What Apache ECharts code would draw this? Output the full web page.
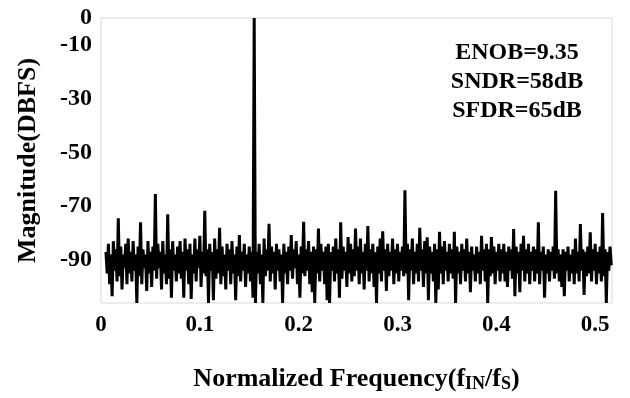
<!DOCTYPE html>
<html>
<head>
<meta charset="utf-8">
<script src="https://cdn.jsdelivr.net/npm/echarts@6/dist/echarts.min.js"></script>
<style>html,body{margin:0;padding:0;background:#fff}#c{width:630px;height:398px}</style>
</head>
<body>
<div id="c"></div>
<script>
// FFT bins (normalized frequency): first bin and bin spacing
const freqStart = 0.005;
const freqStep = 0.00125;
// Magnitude in dBFS per bin
const magnitudes = [
  -87, -95, -84, -99, -88, -103.5, -83, -94, -86, -98, -74.5, -96, -85, -101, -88, -93, -84, -99, -82, -95,
  -87, -98, -83, -94, -88, -106, -85, -96, -76, -99, -86, -93, -88, -101.5, -83, -95, -87, -100, -85, -94,
  -65.5, -97, -84, -93, -87, -101, -83, -95, -88, -99, -73, -97, -86, -104, -83, -94, -88, -98, -85, -95,
  -83, -97, -87, -104, -82, -94, -86, -99, -84, -104.5, -88, -95, -82, -98, -86, -93, -81, -100, -87, -95,
  -71.7, -96, -86, -106, -84, -94, -87, -105, -82, -97, -86, -95, -78, -99, -85, -96, -88, -101, -84, -94,
  -86, -99, -83, -95, -88, -105, -85, -96, -80.7, -98, -87, -94, -84, -100, -88, -95, -85, -98, -87, -104,
  0, -106, -87, -95, -84, -99, -88, -106, -82, -96, -86, -94, -76.5, -98, -85, -95, -87, -101, -84, -94,
  -86, -98, -88, -106, -84, -95, -87, -99, -85, -94, -80.7, -97, -86, -93, -83, -99, -88, -104, -85, -95,
  -75.8, -96, -86, -94, -83, -99, -87, -102, -85, -106, -86, -95, -78.3, -98, -84, -94, -87, -99, -85, -105,
  -84, -106, -87, -94, -85, -98, -82, -95, -86, -104, -76, -97, -85, -94, -87, -100, -81.5, -95, -84, -98,
  -86, -96, -78.3, -94, -85, -99, -82, -95, -87, -101, -84, -94, -77.4, -98, -86, -95, -84, -100, -87, -106,
  -85, -95, -82, -98, -79.3, -94, -86, -101.5, -84, -96, -87, -94, -82, -99, -86, -95, -84, -98, -87, -94,
  -85, -96, -64.1, -95, -84, -105, -86, -94, -82, -99, -87, -95, -84, -98, -78, -94, -86, -100, -83, -95,
  -81.6, -105, -85, -95, -87, -98, -84, -106, -86, -101, -79.5, -95, -85, -99, -83, -94, -87, -98, -84, -95,
  -86, -97, -79.5, -106, -85, -95, -87, -99, -84, -94, -86, -98, -82, -95, -87, -102, -85, -94, -88, -98,
  -85, -95, -87, -99, -81, -94, -86, -98, -84, -106, -86, -96, -81.5, -95, -85, -99, -87, -94, -84, -98,
  -86, -95, -84, -98, -87, -100, -85, -94, -86, -97, -78.5, -103.5, -85, -95, -87, -102, -84, -94, -81, -98,
  -86, -95, -84, -99, -87, -94, -85, -98, -86, -95, -76, -99, -87, -94, -85, -104, -88, -95, -86, -98,
  -87, -94, -85, -97, -64.3, -95, -86, -98, -88, -100, -86, -103.5, -87, -94, -85, -98, -88, -95, -86, -99,
  -82, -95, -87, -98, -76.6, -94, -86, -103, -87, -96, -85, -95, -79.7, -98, -86, -94, -84, -99, -87, -95,
  -85, -98, -72.5, -96, -86, -106, -87, -94, -85, -92
];
// Tick labels
const xTicks = [0, 0.1, 0.2, 0.3, 0.4, 0.5];
const yTicks = [0, -10, -30, -50, -70, -90];
const annotationLines = ['ENOB=9.35', 'SNDR=58dB', 'SFDR=65dB'];

const data = magnitudes.map((m, i) => [freqStart + i * freqStep, m]);
const FONT = '"Liberation Serif", "Times New Roman", serif';

const chart = echarts.init(document.getElementById('c'), null, {renderer: 'canvas'});
chart.setOption({
  animation: false,
  backgroundColor: '#fff',
  grid: {left: 101, right: 18, top: 18, bottom: 92, show: true, borderColor: '#d9d9d9', borderWidth: 1},
  xAxis: {
    type: 'value', min: 0, max: 0.517,
    axisLine: {show: false}, axisTick: {show: false}, splitLine: {show: false},
    axisLabel: {customValues: xTicks, fontFamily: FONT, fontWeight: 'bold', fontSize: 23, color: '#000', margin: 11,
      formatter: v => String(v)},
    name: 'Normalized Frequency(f{sub|IN}/f{sub|S})',
    nameLocation: 'middle', nameGap: 62,
    nameTextStyle: {fontFamily: FONT, fontWeight: 'bold', fontSize: 26, color: '#000',
      rich: {sub: {fontFamily: FONT, fontWeight: 'bold', fontSize: 18, color: '#000', padding: [10, 0, 0, 0]}}}
  },
  yAxis: {
    type: 'value', min: -106, max: 0,
    axisLine: {show: false}, axisTick: {show: false}, splitLine: {show: false},
    axisLabel: {customValues: yTicks, fontFamily: FONT, fontWeight: 'bold', fontSize: 24, color: '#000', margin: 9},
    name: 'Magnitude(DBFS)', nameLocation: 'middle', nameGap: 60, nameRotate: 90,
    nameTextStyle: {fontFamily: FONT, fontWeight: 'bold', fontSize: 26, color: '#000'}
  },
  series: [{
    type: 'line', data: data, showSymbol: false, symbol: 'none',
    lineStyle: {color: '#000', width: 3}, clip: true
  }],
  graphic: [{
    type: 'text',
    style: {x: 517, y: 38.5, text: annotationLines.join('\n'), font: 'bold 24px ' + FONT,
      align: 'center', verticalAlign: 'top', lineHeight: 29, fill: '#000'}
  }]
});
</script>
</body>
</html>
